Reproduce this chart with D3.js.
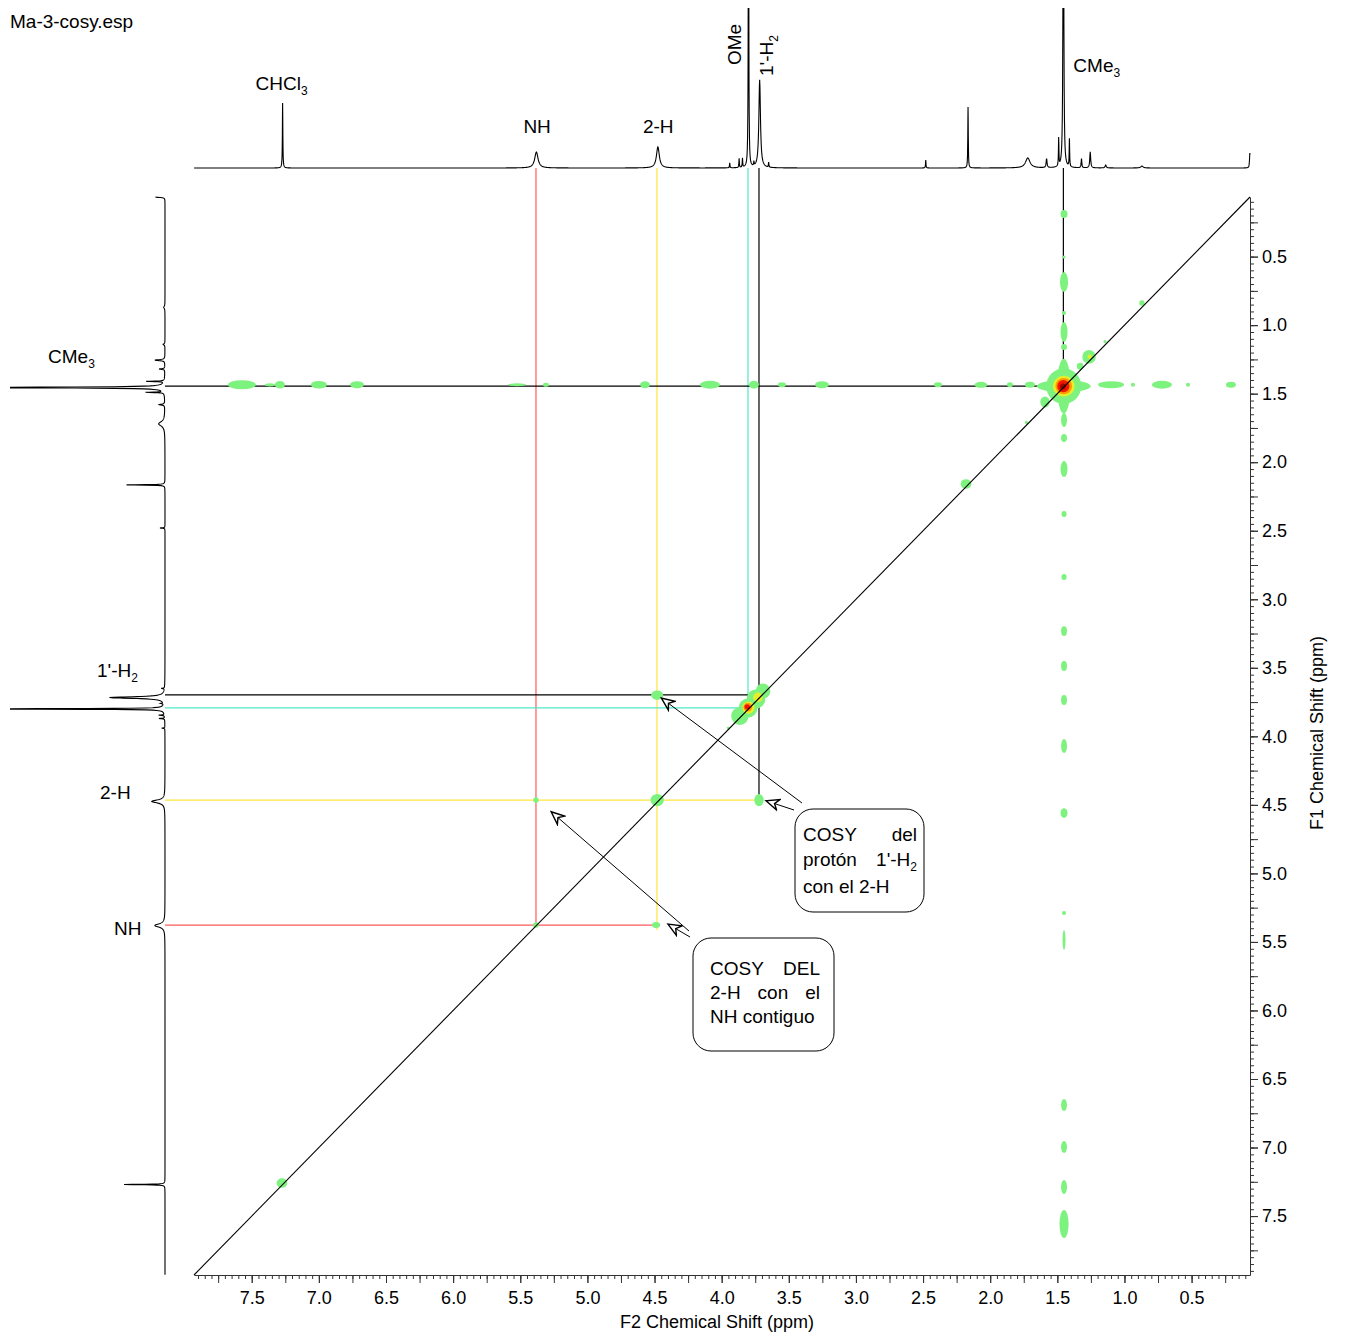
<!DOCTYPE html>
<html>
<head>
<meta charset="utf-8">
<script src="https://cdn.jsdelivr.net/npm/d3@7/dist/d3.min.js"></script>
<style>
body { margin: 0; background: #fff; }
text { font-family: "Liberation Sans", Arial, sans-serif; }
</style>
</head>
<body>
<div id="chart"></div>
<script>
// axis ranges (ppm)
const f2Domain = [7.93, 0.065];
const f1Domain = [0.065, 7.93];
const tickLabels = [7.5, 7.0, 6.5, 6.0, 5.5, 5.0, 4.5, 4.0, 3.5, 3.0, 2.5, 2.0, 1.5, 1.0, 0.5];

// 1D peaks: [ppm, height, half width]
const peaks = [
  [7.27, 65, 0.002], [5.38, 16, 0.015], [4.475, 21, 0.013],
  [3.94, 5, 0.002], [3.87, 9, 0.002], [3.845, 9, 0.002], [3.80, 400, 0.002],
  [3.717, 88, 0.007], [3.76, 4, 0.002], [3.65, 5, 0.002],
  [2.48, 8, 0.002], [2.165, 61, 0.002],
  [1.72, 10, 0.02], [1.58, 9, 0.004], [1.49, 28, 0.002], [1.455, 400, 0.003],
  [1.41, 28, 0.002], [1.32, 9, 0.003], [1.255, 16, 0.004], [1.14, 3, 0.005],
  [0.87, 2, 0.01], [0.066, 15, 0.003]
];

// 2D contour blobs: [f2, f1, rx, ry, level]
const blobs = [
  // CMe3 diagonal
  [1.452, 1.445, 0.13, 0.13, 0], [1.452, 1.445, 0.05, 0.2, 0], [1.452, 1.445, 0.2, 0.045, 0],
  [1.452, 1.445, 0.08, 0.075, 1], [1.452, 1.445, 0.062, 0.06, 2], [1.455, 1.445, 0.045, 0.045, 3],
  [1.458, 1.448, 0.022, 0.022, 4],
  [1.264, 1.232, 0.05, 0.05, 0], [1.26, 1.23, 0.015, 0.015, 1],
  [1.33, 1.30, 0.025, 0.025, 0], [1.592, 1.561, 0.035, 0.04, 0], [1.73, 1.71, 0.012, 0.012, 0],
  [1.145, 1.12, 0.012, 0.012, 0], [0.87, 0.838, 0.02, 0.02, 0],
  // OMe / 1'-H2 diagonal
  [3.864, 3.852, 0.065, 0.065, 0], [3.804, 3.793, 0.07, 0.07, 0], [3.745, 3.728, 0.07, 0.07, 0],
  [3.692, 3.669, 0.055, 0.055, 0], [3.95, 3.94, 0.012, 0.012, 0],
  [3.80, 3.79, 0.045, 0.045, 1], [3.73, 3.715, 0.035, 0.035, 1],
  [3.805, 3.787, 0.032, 0.032, 2], [3.81, 3.785, 0.02, 0.02, 3],
  // cross peaks
  [4.48, 3.70, 0.045, 0.035, 0], [3.722, 4.465, 0.035, 0.045, 0], [4.48, 4.465, 0.05, 0.045, 0],
  [5.383, 4.465, 0.02, 0.02, 0], [4.489, 5.377, 0.03, 0.022, 0], [5.383, 5.377, 0.022, 0.02, 0],
  [2.18, 2.159, 0.04, 0.035, 0], [7.275, 7.259, 0.04, 0.035, 0],
  // t1 noise, F1 = 1.44
  [7.573, 1.435, 0.104, 0.033, 0], [7.364, 1.435, 0.037, 0.012, 0], [7.29, 1.435, 0.037, 0.028, 0],
  [7.0, 1.435, 0.06, 0.028, 0], [6.716, 1.435, 0.052, 0.025, 0], [5.524, 1.435, 0.067, 0.011, 0],
  [5.309, 1.435, 0.022, 0.015, 0], [4.571, 1.435, 0.037, 0.026, 0], [4.087, 1.435, 0.075, 0.029, 0],
  [3.76, 1.435, 0.037, 0.029, 0], [3.551, 1.435, 0.03, 0.018, 0], [3.253, 1.435, 0.052, 0.025, 0],
  [2.389, 1.435, 0.03, 0.018, 0], [2.069, 1.435, 0.048, 0.022, 0], [1.853, 1.435, 0.022, 0.018, 0],
  [1.704, 1.435, 0.037, 0.022, 0], [1.287, 1.435, 0.015, 0.015, 0], [1.1, 1.435, 0.097, 0.025, 0],
  [0.937, 1.435, 0.015, 0.015, 0], [0.721, 1.435, 0.075, 0.029, 0], [0.527, 1.435, 0.015, 0.015, 0],
  [0.207, 1.435, 0.037, 0.022, 0],
  // t1 noise, F2 = 1.45
  [1.45, 0.189, 0.026, 0.03, 0], [1.45, 0.503, 0.011, 0.011, 0], [1.45, 0.685, 0.03, 0.073, 0],
  [1.45, 0.911, 0.015, 0.015, 0], [1.45, 1.05, 0.026, 0.073, 0], [1.45, 1.159, 0.022, 0.022, 0],
  [1.45, 1.692, 0.022, 0.051, 0], [1.45, 1.823, 0.022, 0.029, 0], [1.45, 2.05, 0.026, 0.058, 0],
  [1.45, 2.378, 0.019, 0.022, 0], [1.45, 2.837, 0.019, 0.022, 0], [1.45, 3.232, 0.022, 0.036, 0],
  [1.45, 3.487, 0.022, 0.036, 0], [1.45, 3.735, 0.022, 0.036, 0], [1.45, 4.07, 0.022, 0.051, 0],
  [1.45, 4.56, 0.026, 0.036, 0], [1.45, 5.289, 0.015, 0.015, 0], [1.45, 5.486, 0.011, 0.073, 0],
  [1.45, 6.69, 0.022, 0.044, 0], [1.45, 6.996, 0.022, 0.044, 0], [1.45, 7.288, 0.022, 0.051, 0],
  [1.45, 7.558, 0.034, 0.102, 0]
];
const levelColors = ["#7ef27e", "#e6f02a", "#ff9a00", "#f01800", "#a00000"];

// guide lines: vertical ones run from the top trace down to `end` (F1), horizontal ones from the left trace to `end` (F2)
const vGuides = [
  {ppm: 5.383, end: 5.377, color: "#ff5a5a"},
  {ppm: 4.482, end: 5.413, color: "#ffe63c"},
  {ppm: 3.804, end: 3.793, color: "#50e8c8"},
  {ppm: 3.722, end: 4.49, color: "#000"},
  {ppm: 1.455, end: 1.445, color: "#000"}
];
const hGuides = [
  {ppm: 5.377, end: 4.459, color: "#ff5a5a"},
  {ppm: 4.465, end: 3.715, color: "#ffe63c"},
  {ppm: 3.793, end: 3.804, color: "#50e8c8"},
  {ppm: 3.698, end: 3.722, color: "#000"},
  {ppm: 1.445, end: 1.455, color: "#000"}
];

const topLabels = [
  {ppm: 7.27, y: 90, text: "CHCl", sub: "3", dx: -27},
  {ppm: 5.38, y: 133, text: "NH", sub: "", dx: -13},
  {ppm: 4.475, y: 133, text: "2-H", sub: "", dx: -15},
  {ppm: 1.455, y: 72, text: "CMe", sub: "3", dx: 10}
];
const leftLabels = [
  {ppm: 1.445, x: 48, dy: -23, text: "CMe", sub: "3"},
  {ppm: 3.698, x: 97, dy: -18, text: "1'-H", sub: "2"},
  {ppm: 4.465, x: 100, dy: -1, text: "2-H", sub: ""},
  {ppm: 5.377, x: 114, dy: 10, text: "NH", sub: ""}
];

// note boxes, one entry per line; "|" marks a subscript
const note1Lines = [["COSY", "del"], ["protón", "1'-H|2"], ["con el 2-H"]];
const note2Lines = [["COSY", "DEL"], ["2-H", "con", "el"], ["NH contiguo"]];

const width = 1345, height = 1338;
const plot = {left: 194, right: 1250, top: 197, bottom: 1275};
const topBase = 168, leftBase = 165, leftScale = 0.63;

const svg = d3.select("#chart").append("svg")
  .attr("width", width).attr("height", height);

const x = d3.scaleLinear().domain(f2Domain).range([plot.left, plot.right]);
const y = d3.scaleLinear().domain(f1Domain).range([plot.top, plot.bottom]);

// file name
svg.append("text").attr("x", 10).attr("y", 28).attr("font-size", "19px").text("Ma-3-cosy.esp");

// 1D spectrum trace
let grid = d3.range(f2Domain[1], f2Domain[0], 0.002);
peaks.forEach(p => { [-2, -1, -0.5, 0, 0.5, 1, 2].forEach(k => grid.push(p[0] + k * p[2])); });
grid = grid.filter(v => v >= f2Domain[1] && v <= f2Domain[0]).sort((a, b) => a - b);
const spec = grid.map(v => [v, d3.sum(peaks, p => p[1] / (1 + Math.pow((v - p[0]) / p[2], 2)))]);

const defs = svg.append("defs");
defs.append("clipPath").attr("id", "clipTop").append("rect")
  .attr("x", 0).attr("y", 8).attr("width", width).attr("height", 300);
defs.append("clipPath").attr("id", "clipLeft").append("rect")
  .attr("x", 10).attr("y", 0).attr("width", 300).attr("height", height);
defs.append("filter").attr("id", "soft").append("feGaussianBlur").attr("stdDeviation", 0.7);
defs.append("marker").attr("id", "arrow").attr("viewBox", "-14 -7 16 14")
  .attr("refX", 0).attr("refY", 0).attr("markerWidth", 16).attr("markerHeight", 14)
  .attr("markerUnits", "userSpaceOnUse").attr("orient", "auto")
  .append("path").attr("d", "M0,0 L-13,-5.5 L-9,0 L-13,5.5 Z")
  .attr("fill", "#fff").attr("stroke", "#000").attr("stroke-width", 1.4);

svg.append("path").datum(spec)
  .attr("clip-path", "url(#clipTop)")
  .attr("fill", "none").attr("stroke", "#000").attr("stroke-width", 1.1)
  .attr("d", d3.line().x(d => x(d[0])).y(d => topBase - d[1]));

svg.append("path").datum(spec)
  .attr("clip-path", "url(#clipLeft)")
  .attr("fill", "none").attr("stroke", "#000").attr("stroke-width", 1.1)
  .attr("d", d3.line().x(d => leftBase - leftScale * d[1]).y(d => y(d[0])));

// guide lines
svg.selectAll(".vguide").data(vGuides).enter().append("line")
  .attr("x1", d => x(d.ppm)).attr("x2", d => x(d.ppm))
  .attr("y1", topBase).attr("y2", d => y(d.end))
  .attr("stroke", d => d.color).attr("stroke-width", 1.2);
svg.selectAll(".hguide").data(hGuides).enter().append("line")
  .attr("y1", d => y(d.ppm)).attr("y2", d => y(d.ppm))
  .attr("x1", leftBase).attr("x2", d => x(d.end))
  .attr("stroke", d => d.color).attr("stroke-width", 1.2);

// contour blobs
const blobG = svg.append("g").attr("filter", "url(#soft)");
blobG.selectAll("ellipse").data(blobs.slice().sort((a, b) => a[4] - b[4])).enter().append("ellipse")
  .attr("cx", d => x(d[0])).attr("cy", d => y(d[1]))
  .attr("rx", d => Math.abs(x(0) - x(d[2]))).attr("ry", d => y(d[3]) - y(0))
  .attr("fill", d => levelColors[d[4]]);

// diagonal
svg.append("line")
  .attr("x1", x(f2Domain[0])).attr("y1", y(f1Domain[1]))
  .attr("x2", x(f2Domain[1])).attr("y2", y(f1Domain[0]))
  .attr("stroke", "#000").attr("stroke-width", 1.1);

// axes
const fmt = d3.format(".1f");
const minorX = d3.range(0.1, 7.93, 0.05).map(v => +v.toFixed(2));
const midX = d3.range(0.25, 7.93, 0.25);
function styleAxis(g) {
  g.selectAll("path,line").attr("stroke", "#333");
  g.selectAll("text").attr("font-size", "18px").attr("fill", "#000")
    .attr("font-family", "Liberation Sans, Arial, sans-serif");
}
const gx = `translate(0,${plot.bottom})`;
svg.append("g").attr("transform", gx)
  .call(d3.axisBottom(x).tickValues(minorX).tickSize(4).tickSizeOuter(0).tickFormat(""))
  .call(styleAxis);
svg.append("g").attr("transform", gx)
  .call(d3.axisBottom(x).tickValues(midX).tickSize(8).tickSizeOuter(0).tickFormat(""))
  .call(g => g.select(".domain").remove()).call(styleAxis);
svg.append("g").attr("transform", gx)
  .call(d3.axisBottom(x).tickValues(tickLabels).tickSize(8).tickSizeOuter(0).tickPadding(8).tickFormat(fmt))
  .call(g => g.select(".domain").remove()).call(styleAxis);

const gy = `translate(${plot.right},0)`;
svg.append("g").attr("transform", gy)
  .call(d3.axisRight(y).tickValues(minorX).tickSize(4).tickSizeOuter(0).tickFormat(""))
  .call(styleAxis);
svg.append("g").attr("transform", gy)
  .call(d3.axisRight(y).tickValues(midX).tickSize(8).tickSizeOuter(0).tickFormat(""))
  .call(g => g.select(".domain").remove()).call(styleAxis);
svg.append("g").attr("transform", gy)
  .call(d3.axisRight(y).tickValues(tickLabels).tickSize(8).tickSizeOuter(0).tickPadding(4).tickFormat(fmt))
  .call(g => g.select(".domain").remove()).call(styleAxis);

svg.append("text").attr("x", (plot.left + plot.right) / 2 - 5).attr("y", 1328)
  .attr("text-anchor", "middle").attr("font-size", "18px").text("F2 Chemical Shift (ppm)");
svg.append("text").attr("transform", `translate(1323,${(plot.top + plot.bottom) / 2 - 3}) rotate(-90)`)
  .attr("text-anchor", "middle").attr("font-size", "18px").text("F1 Chemical Shift (ppm)");

// peak labels
function label(g, tx, ty, main, sub, transform) {
  const t = g.append("text").attr("x", tx).attr("y", ty).attr("font-size", "19px");
  if (transform) t.attr("transform", transform);
  t.append("tspan").text(main);
  if (sub) t.append("tspan").attr("font-size", "12px").attr("dy", 5).text(sub);
  return t;
}
topLabels.forEach(d => label(svg, x(d.ppm) + d.dx, d.y, d.text, d.sub));
leftLabels.forEach(d => label(svg, d.x, y(d.ppm) + d.dy, d.text, d.sub));
label(svg, 0, 0, "OMe", "", `translate(${x(3.80) - 8},65) rotate(-90)`);
label(svg, 0, 0, "1'-H", "2", `translate(${x(3.717) + 13},76) rotate(-90)`);

// annotation boxes with justified text
const notes = [
  {box: [795, 809, 129, 103], left: 803, right: 917, base: [841, 866, 893], lines: note1Lines},
  {box: [693, 938, 141, 113], left: 710, right: 820, base: [975, 999, 1023], lines: note2Lines}
];
notes.forEach(n => {
  svg.append("rect").attr("x", n.box[0]).attr("y", n.box[1]).attr("width", n.box[2]).attr("height", n.box[3])
    .attr("rx", 18).attr("fill", "#fff").attr("stroke", "#000").attr("stroke-width", 1);
  n.lines.forEach((words, i) => {
    const items = words.map(w => {
      const parts = w.split("|");
      const t = svg.append("text").attr("y", n.base[i]).attr("font-size", "19px");
      t.append("tspan").text(parts[0]);
      if (parts[1]) t.append("tspan").attr("font-size", "12px").attr("dy", 5).text(parts[1]);
      return t;
    });
    if (items.length === 1) { items[0].attr("x", n.left); return; }
    const widths = items.map(t => t.node().getComputedTextLength());
    const gap = (n.right - n.left - d3.sum(widths)) / (items.length - 1);
    let cx = n.left;
    items.forEach((t, k) => { t.attr("x", cx); cx += widths[k] + gap; });
  });
});

// arrows: from box corner to cross peak
const arrows = [
  {from: [802, 803], to: [4.45, 3.72]},
  {from: [794, 810], to: [3.67, 4.47]},
  {from: [689, 931], to: [5.27, 4.55]},
  {from: [690, 937], to: [4.40, 5.37]}
];
svg.selectAll(".arrow").data(arrows).enter().append("line")
  .attr("x1", d => d.from[0]).attr("y1", d => d.from[1])
  .attr("x2", d => x(d.to[0])).attr("y2", d => y(d.to[1]))
  .attr("stroke", "#000").attr("stroke-width", 1).attr("marker-end", "url(#arrow)");
</script>
</body>
</html>
